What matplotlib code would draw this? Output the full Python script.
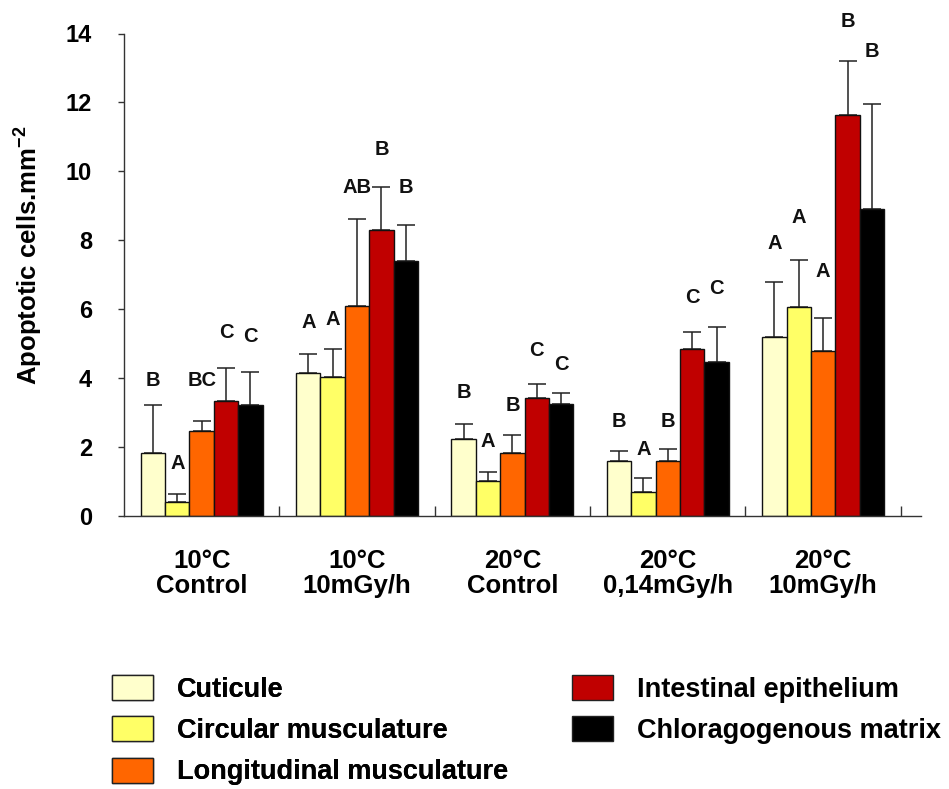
import matplotlib
matplotlib.use("Agg")
import matplotlib.pyplot as plt
from matplotlib.patches import Patch
import numpy as np

plt.rcParams['font.family'] = ['Liberation Sans', 'DejaVu Sans']
plt.rcParams['font.weight'] = 'bold'
plt.rcParams['mathtext.fontset'] = 'custom'
plt.rcParams['mathtext.rm'] = 'Liberation Sans:bold'
plt.rcParams['mathtext.bf'] = 'Liberation Sans:bold'

# ---- data ----
groups = ["10°C\nControl", "10°C\n10mGy/h", "20°C\nControl", "20°C\n0,14mGy/h", "20°C\n10mGy/h"]
series = ["Cuticule", "Circular musculature", "Longitudinal musculature",
          "Intestinal epithelium", "Chloragogenous matrix"]

cuticule = [1.83, 4.15, 2.22, 1.59, 5.20]
circular = [0.40, 4.02, 1.01, 0.70, 6.05]
longitudinal = [2.46, 6.08, 1.82, 1.59, 4.80]
intestinal = [3.35, 8.31, 3.43, 4.86, 11.64]
chloragogenous = [3.23, 7.39, 3.26, 4.47, 8.90]

cuticule_err = [1.38, 0.54, 0.45, 0.31, 1.60]
circular_err = [0.23, 0.84, 0.26, 0.40, 1.37]
longitudinal_err = [0.31, 2.54, 0.54, 0.35, 0.94]
intestinal_err = [0.94, 1.24, 0.39, 0.49, 1.55]
chloragogenous_err = [0.94, 1.05, 0.30, 1.00, 3.06]

# significance letters (per group, per series) and their heights
letters = [["B", "A", "BC", "C", "C"],
           ["A", "A", "AB", "B", "B"],
           ["B", "A", "B", "C", "C"],
           ["B", "A", "B", "C", "C"],
           ["A", "A", "A", "B", "B"]]
letter_heights = [[3.94, 1.53, 3.94, 5.31, 5.20],
                  [5.61, 5.69, 9.53, 10.64, 9.53],
                  [3.58, 2.17, 3.21, 4.81, 4.40],
                  [2.75, 1.92, 2.75, 6.35, 6.59],
                  [7.92, 8.65, 7.09, 14.34, 13.47]]

yticks = [0, 2, 4, 6, 8, 10, 12, 14]

colors = ["#FFFFCC", "#FFFF66", "#FF6600", "#C00000", "#000000"]

values = [cuticule, circular, longitudinal, intestinal, chloragogenous]
errors = [cuticule_err, circular_err, longitudinal_err, intestinal_err, chloragogenous_err]

# ---- figure ----
fig = plt.figure(figsize=(9.49, 7.89), dpi=100)
ax = fig.add_axes([124/949, 1-516/789, (921-124)/949, (516-33.5)/789])

centers = np.arange(len(groups)) + 0.5
bw = 0.157
for i, (vals, errs, col) in enumerate(zip(values, errors, colors)):
    x = centers + (i - 2) * bw
    ax.bar(x, vals, width=bw, color=col, edgecolor="#111111", linewidth=1.0, zorder=2)
    ax.errorbar(x, vals, yerr=[np.zeros(len(errs)), errs], fmt='none',
                ecolor="#222222", elinewidth=1.1, capsize=6.5, capthick=1.1, zorder=1)

for g in range(len(groups)):
    for i in range(len(series)):
        ax.text(centers[g] + (i - 2) * bw, letter_heights[g][i], letters[g][i],
                ha='center', va='center', fontsize=14.5, fontweight='bold', color="#111111")

ax.set_xlim(0, 5.13)
ax.set_ylim(0, 14)
ax.spines['top'].set_visible(False)
ax.spines['right'].set_visible(False)
for s in ['left', 'bottom']:
    ax.spines[s].set_linewidth(1.0)
    ax.spines[s].set_color("#333333")

ax.set_yticks(yticks)
ax.set_yticklabels([str(t) for t in yticks], fontsize=17, fontweight='bold')
ax.tick_params(axis='y', direction='out', length=4, width=1, pad=19, color="#333333")

ax.set_xticks(centers)
ax.set_xticklabels(groups, fontsize=18.5, fontweight='bold', linespacing=1.05)
ax.tick_params(axis='x', which='major', length=0, pad=24)
ax.set_xticks(np.arange(1, 6), minor=True)
ax.tick_params(axis='x', which='minor', direction='in', length=7, width=1, color="#333333")

fig.text(28/949, 1-255/789, r'Apoptotic cells.mm$^{-2}$', rotation=90,
         ha='center', va='center', fontsize=18.5, fontweight='bold')

handles = [Patch(facecolor=c, edgecolor="#222222", linewidth=1.0) for c in colors]
leg_kw = dict(loc='upper left', frameon=False, fontsize=19.5, handlelength=1.5,
              handleheight=1.05, handletextpad=0.9, labelspacing=0.5,
              borderpad=0, borderaxespad=0)
leg1 = fig.legend(handles[:3], series[:3], bbox_to_anchor=(112/949, 1-675/789), **leg_kw)
leg2 = fig.legend(handles[3:], series[3:], bbox_to_anchor=(572/949, 1-675/789), **leg_kw)
fig.add_artist(leg1)

fig.savefig("out.png", dpi=100)
